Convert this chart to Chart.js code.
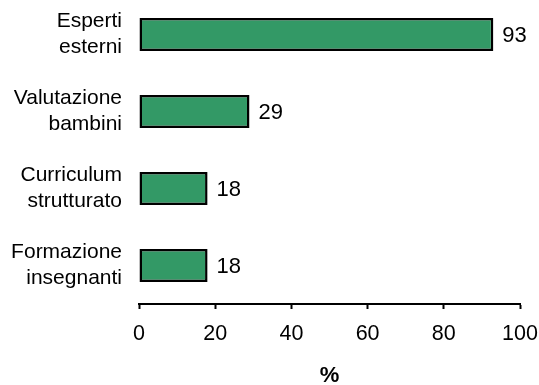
<!DOCTYPE html>
<html>
<head>
<meta charset="utf-8">
<script src="https://cdn.jsdelivr.net/npm/chart.js@4/dist/chart.umd.min.js"></script>
<style>
  html, body { margin: 0; padding: 0; background: #fff; overflow: hidden; }
  #wrap { position: relative; width: 539px; height: 385px; overflow: hidden; }
  #wrap canvas { position: absolute; left: 0; top: -4px; }
</style>
</head>
<body>
<div id="wrap"><canvas id="c" width="539" height="389"></canvas></div>
<script>
// Categories (two-line labels) and percentage values
const categories = [
  ['Esperti', 'esterni'],
  ['Valutazione', 'bambini'],
  ['Curriculum', 'strutturato'],
  ['Formazione', 'insegnanti']
];
const values = [93, 29, 18, 18];
const xTicks = [0, 20, 40, 60, 80, 100];
const xTitle = '%';

const FONT = 'Arial, "Liberation Sans", sans-serif';

// Writes each bar's value just past its end
const valueLabels = {
  id: 'valueLabels',
  afterDatasetsDraw(chart) {
    const { ctx } = chart;
    const meta = chart.getDatasetMeta(0);
    ctx.save();
    ctx.font = '22px ' + FONT;
    ctx.fillStyle = '#000';
    ctx.textAlign = 'left';
    ctx.textBaseline = 'middle';
    meta.data.forEach((bar, i) => {
      ctx.fillText(String(values[i]), bar.x + 9, bar.y + 1);
    });
    ctx.restore();
  }
};

new Chart(document.getElementById('c'), {
  type: 'bar',
  data: {
    labels: categories,
    datasets: [{
      data: values,
      backgroundColor: '#339966',
      borderColor: '#000',
      borderWidth: 2.5,
      borderSkipped: false,
      barPercentage: 0.43,
      categoryPercentage: 1
    }]
  },
  options: {
    indexAxis: 'y',
    responsive: false,
    animation: false,
    layout: { padding: { left: 0, right: 19, top: 0, bottom: 0 } },
    plugins: { legend: { display: false }, tooltip: { enabled: false } },
    scales: {
      y: {
        grid: { display: false, drawTicks: false },
        border: { display: false },
        ticks: {
          color: '#000',
          padding: 17,
          font: { family: FONT, size: 21, lineHeight: 1.24 }
        },
        afterFit(scale) {
          scale.width = 139;
          scale.paddingTop = 0;
          scale.paddingBottom = 0;
        }
      },
      x: {
        min: 0,
        max: 100,
        afterBuildTicks(scale) { scale.ticks = xTicks.map(v => ({ value: v })); },
        grid: {
          display: true,
          drawOnChartArea: false,
          drawTicks: true,
          tickLength: 5,
          tickWidth: 2,
          tickColor: '#000',
          color: '#000'
        },
        border: { display: true, color: '#000', width: 2 },
        ticks: {
          color: '#000',
          padding: 12,
          maxRotation: 0,
          font: { family: FONT, size: 21.5 }
        },
        title: {
          display: true,
          text: xTitle,
          color: '#000',
          padding: { top: 0, bottom: 0 },
          font: { family: FONT, size: 22, weight: 'bold', lineHeight: 0.8 }
        },
        afterFit(scale) {
          scale.height = 81;
          scale.paddingLeft = 0;
          scale.paddingRight = 0;
        }
      }
    }
  },
  plugins: [valueLabels]
});
</script>
</body>
</html>
